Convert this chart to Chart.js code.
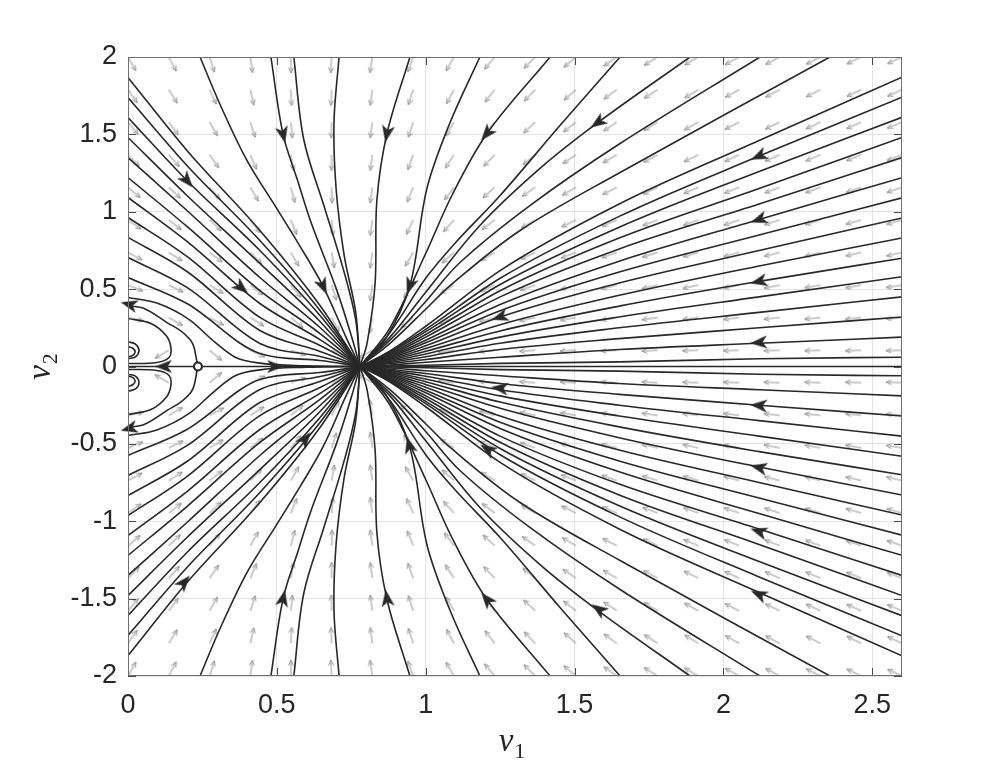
<!DOCTYPE html>
<html>
<head>
<meta charset="utf-8">
<title>Phase portrait</title>
<script src="https://cdn.jsdelivr.net/npm/chart.js@4.4.1/dist/chart.umd.min.js"></script>
<style>
  html, body { margin: 0; padding: 0; background: #fff; }
  canvas { display: block; }
</style>
</head>
<body>
<canvas id="phase" width="996" height="760"></canvas>
<script>
// Axis ticks
const xTicks = [0, 0.5, 1, 1.5, 2, 2.5];
const yTicks = [-2, -1.5, -1, -0.5, 0, 0.5, 1, 1.5, 2];

// Saddle point (open circle)
const saddleV1 = [0.235];
const saddleV2 = [0];

// Quiver grid (20 x 20) and arrow directions (screen degrees, 0 = right, 90 = up)
const quiverV1 = [0, 0.137, 0.274, 0.411, 0.547, 0.684, 0.821, 0.958, 1.095, 1.232, 1.368, 1.505, 1.642, 1.779, 1.916, 2.053, 2.189, 2.326, 2.463, 2.6];
const quiverV2 = [2, 1.789, 1.579, 1.368, 1.158, 0.947, 0.737, 0.526, 0.316, 0.105, -0.105, -0.316, -0.526, -0.737, -0.947, -1.158, -1.368, -1.579, -1.789, -2];
const quiverAngle = [
  [-60, -62, -72, -82, -89, -93, -99, -110, -120, -130, -135, -140, -145, -148, -150, -151, -152, -153, -154, -155],
  [-55, -58, -65, -77, -87, -92, -98, -108, -118, -128, -134, -139, -144, -147, -149, -151, -152, -153, -154, -155],
  [-50, -53, -60, -72, -84, -91, -98, -108, -120, -130, -137, -142, -146, -149, -151, -153, -154, -155, -156, -157],
  [-45, -48, -55, -67, -80, -90, -98, -110, -123, -134, -141, -146, -150, -152, -154, -155, -156, -157, -158, -159],
  [-40, -43, -49, -60, -75, -88, -98, -112, -127, -138, -145, -150, -153, -155, -157, -158, -159, -160, -161, -161],
  [-35, -38, -43, -53, -68, -85, -98, -115, -132, -143, -150, -154, -157, -159, -160, -161, -162, -163, -164, -164],
  [-28, -32, -37, -45, -60, -80, -98, -120, -138, -149, -155, -159, -161, -163, -164, -165, -166, -166, -167, -167],
  [-22, -26, -31, -38, -50, -72, -98, -127, -147, -156, -161, -164, -166, -167, -168, -169, -169, -170, -170, -171],
  [-12, -30, -28, -32, -40, -62, -100, -140, -158, -165, -168, -170, -171, -172, -173, -173, -174, -174, -174, -175],
  [180, -150, -40, -25, -18, -22, -150, -168, -173, -175, -176, -177, -177, -177, -178, -178, -178, -178, -178, -178],
  [180, 150, 40, 25, 18, 22, 150, 168, 173, 175, 176, 177, 177, 177, 178, 178, 178, 178, 178, 178],
  [12, 30, 28, 32, 40, 62, 100, 140, 158, 165, 168, 170, 171, 172, 173, 173, 174, 174, 174, 175],
  [22, 26, 31, 38, 50, 72, 98, 127, 147, 156, 161, 164, 166, 167, 168, 169, 169, 170, 170, 171],
  [28, 32, 37, 45, 60, 80, 98, 120, 138, 149, 155, 159, 161, 163, 164, 165, 166, 166, 167, 167],
  [35, 38, 43, 53, 68, 85, 98, 115, 132, 143, 150, 154, 157, 159, 160, 161, 162, 163, 164, 164],
  [40, 43, 49, 60, 75, 88, 98, 112, 127, 138, 145, 150, 153, 155, 157, 158, 159, 160, 161, 161],
  [45, 48, 55, 67, 80, 90, 98, 110, 123, 134, 141, 146, 150, 152, 154, 155, 156, 157, 158, 159],
  [50, 53, 60, 72, 84, 91, 98, 108, 120, 130, 137, 142, 146, 149, 151, 153, 154, 155, 156, 157],
  [55, 58, 65, 77, 87, 92, 98, 108, 118, 128, 134, 139, 144, 147, 149, 151, 152, 153, 154, 155],
  [60, 62, 72, 82, 89, 93, 99, 110, 120, 130, 135, 140, 145, 148, 150, 151, 152, 153, 154, 155]
];

// Streamlines entering from the top edge, [v1, v2] points
const topLines = [
  [[0.242, 2], [0.31, 1.69], [0.40, 1.33], [0.50, 1.02], [0.58, 0.77], [0.655, 0.52], [0.73, 0.2], [0.779, 0]],
  [[0.48, 2], [0.521, 1.5], [0.57, 1.2], [0.615, 0.93], [0.70, 0.5], [0.75, 0.2], [0.779, 0]],
  [[0.557, 2], [0.59, 1.47], [0.658, 1.04], [0.726, 0.61], [0.765, 0.3], [0.779, 0]],
  [[0.709, 2], [0.692, 1.58], [0.699, 1.15], [0.726, 0.72], [0.765, 0.35], [0.779, 0]],
  [[0.947, 2], [0.87, 1.506], [0.836, 1.073], [0.83, 0.536], [0.803, 0.15], [0.779, 0]],
  [[1.182, 2], [1.082, 1.577], [1.004, 1.15], [0.947, 0.523], [0.866, 0.181], [0.779, 0]],
  [[1.418, 2], [1.206, 1.506], [1.088, 1.105], [1.0, 0.73], [0.88, 0.25], [0.779, 0]],
  [[1.653, 2], [1.451, 1.557], [1.25, 1.105], [1.1, 0.8], [1.0, 0.57], [0.88, 0.22], [0.779, 0]],
  [[1.888, 2], [1.579, 1.577], [1.384, 1.28], [1.182, 0.911], [1.0, 0.48], [0.88, 0.19], [0.779, 0]],
  [[2.123, 2], [1.653, 1.441], [1.35, 1.04], [1.115, 0.672], [1.0, 0.42], [0.88, 0.17], [0.779, 0]],
  [[2.358, 2], [1.653, 1.254], [1.317, 0.879], [1.082, 0.523], [1.0, 0.37], [0.88, 0.15], [0.779, 0]]
];

// Streamlines entering from the bottom edge
const bottomLines = [
  [[0.242, -2], [0.31, -1.69], [0.40, -1.33], [0.50, -1.02], [0.58, -0.77], [0.655, -0.52], [0.73, -0.2], [0.779, 0]],
  [[0.48, -2], [0.521, -1.5], [0.57, -1.2], [0.615, -0.93], [0.70, -0.5], [0.75, -0.2], [0.779, 0]],
  [[0.557, -2], [0.59, -1.47], [0.658, -1.04], [0.726, -0.61], [0.765, -0.3], [0.779, 0]],
  [[0.709, -2], [0.692, -1.58], [0.699, -1.15], [0.726, -0.72], [0.765, -0.35], [0.779, 0]],
  [[0.947, -2], [0.87, -1.506], [0.836, -1.073], [0.83, -0.536], [0.803, -0.15], [0.779, 0]],
  [[1.182, -2], [1.082, -1.577], [1.004, -1.15], [0.947, -0.523], [0.866, -0.181], [0.779, 0]],
  [[1.418, -2], [1.206, -1.506], [1.088, -1.105], [1.0, -0.73], [0.88, -0.25], [0.779, 0]],
  [[1.653, -2], [1.451, -1.557], [1.25, -1.105], [1.1, -0.8], [1.0, -0.57], [0.88, -0.22], [0.779, 0]],
  [[1.888, -2], [1.579, -1.577], [1.384, -1.28], [1.182, -0.911], [1.0, -0.48], [0.88, -0.19], [0.779, 0]],
  [[2.123, -2], [1.653, -1.441], [1.35, -1.04], [1.115, -0.672], [1.0, -0.42], [0.88, -0.17], [0.779, 0]],
  [[2.358, -2], [1.653, -1.254], [1.317, -0.879], [1.082, -0.523], [1.0, -0.37], [0.88, -0.15], [0.779, 0]]
];

// Streamlines from the left edge into the node: v2 at each v1 station
const leftFanV1 = [0, 0.198, 0.443, 0.645, 0.779];
const leftFanUpper = [
  [1.868, 1.396, 0.879, 0.394, 0],
  [1.738, 1.299, 0.814, 0.362, 0],
  [1.609, 1.202, 0.750, 0.330, 0],
  [1.480, 1.105, 0.666, 0.291, 0],
  [1.350, 1.008, 0.575, 0.252, 0],
  [1.221, 0.905, 0.491, 0.213, 0],
  [1.092, 0.808, 0.407, 0.174, 0],
  [0.963, 0.711, 0.317, 0.136, 0],
  [0.834, 0.614, 0.233, 0.097, 0],
  [0.704, 0.511, 0.149, 0.065, 0],
  [0.575, 0.407, 0.084, 0.039, 0]
];
const leftFanLower = [
  [-1.868, -1.396, -0.879, -0.394, 0],
  [-1.738, -1.299, -0.814, -0.362, 0],
  [-1.609, -1.202, -0.750, -0.330, 0],
  [-1.480, -1.105, -0.666, -0.291, 0],
  [-1.350, -1.008, -0.575, -0.252, 0],
  [-1.221, -0.905, -0.491, -0.213, 0],
  [-1.092, -0.808, -0.407, -0.174, 0],
  [-0.963, -0.711, -0.317, -0.136, 0],
  [-0.834, -0.614, -0.233, -0.097, 0],
  [-0.704, -0.511, -0.149, -0.065, 0],
  [-0.575, -0.407, -0.084, -0.039, 0]
];

// Streamlines from the right edge into the node (they flatten out just before it)
const rightFanV1 = [2.6, 2.12, 1.65, 1.25, 1.0, 0.88, 0.82, 0.779];
const rightFanUpper = [
  [1.87, 1.46, 1.05, 0.62, 0.26, 0.10, 0.037, 0],
  [1.74, 1.36, 0.97, 0.57, 0.24, 0.096, 0.035, 0],
  [1.61, 1.26, 0.90, 0.53, 0.225, 0.089, 0.032, 0],
  [1.48, 1.15, 0.83, 0.49, 0.207, 0.081, 0.03, 0],
  [1.35, 1.05, 0.76, 0.45, 0.19, 0.074, 0.027, 0],
  [1.22, 0.95, 0.68, 0.40, 0.17, 0.067, 0.024, 0],
  [1.09, 0.85, 0.61, 0.36, 0.153, 0.06, 0.022, 0],
  [0.96, 0.75, 0.54, 0.32, 0.134, 0.053, 0.019, 0],
  [0.83, 0.65, 0.46, 0.27, 0.116, 0.046, 0.017, 0],
  [0.70, 0.55, 0.39, 0.23, 0.098, 0.039, 0.014, 0],
  [0.58, 0.45, 0.32, 0.19, 0.081, 0.032, 0.012, 0],
  [0.45, 0.35, 0.25, 0.15, 0.063, 0.025, 0.009, 0],
  [0.32, 0.25, 0.18, 0.11, 0.045, 0.018, 0.006, 0],
  [0.19, 0.15, 0.11, 0.06, 0.027, 0.01, 0.004, 0],
  [0.06, 0.05, 0.03, 0.02, 0.008, 0.003, 0.001, 0]
];
const rightFanLower = [
  [-1.87, -1.46, -1.05, -0.62, -0.26, -0.10, -0.037, 0],
  [-1.74, -1.36, -0.97, -0.57, -0.24, -0.096, -0.035, 0],
  [-1.61, -1.26, -0.90, -0.53, -0.225, -0.089, -0.032, 0],
  [-1.48, -1.15, -0.83, -0.49, -0.207, -0.081, -0.03, 0],
  [-1.35, -1.05, -0.76, -0.45, -0.19, -0.074, -0.027, 0],
  [-1.22, -0.95, -0.68, -0.40, -0.17, -0.067, -0.024, 0],
  [-1.09, -0.85, -0.61, -0.36, -0.153, -0.06, -0.022, 0],
  [-0.96, -0.75, -0.54, -0.32, -0.134, -0.053, -0.019, 0],
  [-0.83, -0.65, -0.46, -0.27, -0.116, -0.046, -0.017, 0],
  [-0.70, -0.55, -0.39, -0.23, -0.098, -0.039, -0.014, 0],
  [-0.58, -0.45, -0.32, -0.19, -0.081, -0.032, -0.012, 0],
  [-0.45, -0.35, -0.25, -0.15, -0.063, -0.025, -0.009, 0],
  [-0.32, -0.25, -0.18, -0.11, -0.045, -0.018, -0.006, 0],
  [-0.19, -0.15, -0.11, -0.06, -0.027, -0.01, -0.004, 0],
  [-0.06, -0.05, -0.03, -0.02, -0.008, -0.003, -0.001, 0]
];

// Lines around the saddle: over the saddle, and into the saddle (stable manifold)
const nearAxisLines = [
  [[0, 0.446], [0.097, 0.41], [0.208, 0.30], [0.29, 0.16], [0.36, 0.06], [0.45, 0.02], [0.6, 0.005], [0.779, 0]],
  [[0, -0.446], [0.097, -0.41], [0.208, -0.30], [0.29, -0.16], [0.36, -0.06], [0.45, -0.02], [0.6, -0.005], [0.779, 0]],
  [[0, 0.394], [0.054, 0.375], [0.131, 0.284], [0.195, 0.2], [0.222, 0.123], [0.232, 0.026], [0.235, 0]],
  [[0, -0.394], [0.054, -0.375], [0.131, -0.284], [0.195, -0.2], [0.222, -0.123], [0.232, -0.026], [0.235, 0]]
];

// U-turns and small loops at the left edge
const loopLines = [
  [[0, 0.31], [0.077, 0.278], [0.128, 0.2], [0.144, 0.123], [0.138, 0.058], [0.097, 0.026], [0, 0.019]],
  [[0, -0.31], [0.077, -0.278], [0.128, -0.2], [0.144, -0.123], [0.138, -0.058], [0.097, -0.026], [0, -0.019]],
  [[0, 0.16], [0.025, 0.145], [0.037, 0.105], [0.025, 0.062], [0, 0.05]],
  [[0, 0.13], [0.016, 0.118], [0.024, 0.095], [0.016, 0.072], [0, 0.062]],
  [[0, -0.16], [0.025, -0.145], [0.037, -0.105], [0.025, -0.062], [0, -0.05]],
  [[0, -0.13], [0.016, -0.118], [0.024, -0.095], [0.016, -0.072], [0, -0.062]]
];

// Horizontal axis trajectories
const axisLines = [
  [[0, 0], [0.235, 0]],
  [[0.235, 0], [0.779, 0]],
  [[0.779, 0], [2.6, 0]]
];

// Black arrowheads on the streamlines (screen degrees)
const arrowV1 = [0.198, 0.521, 0.870, 1.206, 1.579, 2.12, 2.12, 2.12, 2.12, 0.38, 0.655, 0.947, 1.25, 0.494, 0.121, 0.005,
                 0.005, 0.188, 0.595, 0.521, 0.87, 0.945, 1.209, 1.206, 1.582, 1.25, 2.12, 2.12, 2.12, 2.12];
const arrowV2 = [1.202, 1.5, 1.506, 1.506, 1.577, 1.36, 0.95, 0.55, 0.155, 0.51, 0.52, 0.523, 0.32, 0, 0, 0.40,
                 -0.40, -1.396, -0.47, -1.5, -1.5, -0.51, -0.536, -1.506, -1.57, -0.14, -0.252, -0.653, -1.066, -1.473];
const arrowAngle = [-50, -77, -101, -130, -145, -156, -161, -167, -176, -40, -66, -110, -162, 0, 180, 165,
                    195, 50, 52, 78, 98, 105, 148, 130, 145, 173, 176, 167, 162, 156];

const ink = '#282828';

// Small gray quiver arrow, tail at the image centre, pointing right
function makeQuiverArrow() {
    const len = 16, size = 2 * len + 6, m = size / 2;
    const c = document.createElement('canvas');
    c.width = size; c.height = size;
    const g = c.getContext('2d');
    g.strokeStyle = '#989898';
    g.lineWidth = 1;
    g.beginPath();
    g.moveTo(m, m); g.lineTo(m + len, m);
    g.moveTo(m + len - 5.5, m - 2.4); g.lineTo(m + len, m); g.lineTo(m + len - 5.5, m + 2.4);
    g.stroke();
    return c;
}

// Filled arrowhead, pointing right
function makeHead() {
    const c = document.createElement('canvas');
    c.width = 26; c.height = 26;
    const g = c.getContext('2d');
    g.fillStyle = ink;
    g.beginPath();
    g.moveTo(22, 13); g.lineTo(5, 6.5); g.lineTo(9.5, 13); g.lineTo(5, 19.5);
    g.closePath();
    g.fill();
    return c;
}

function streamline(points, mode) {
    const ds = {
        data: points.map(p => ({ x: p[0], y: p[1] })),
        showLine: true,
        pointRadius: 0,
        borderColor: ink,
        borderWidth: 1.6,
        order: 2
    };
    if (mode === 'monotone') ds.cubicInterpolationMode = 'monotone';
    else ds.tension = 0.35;
    return ds;
}

const datasets = [];

// Quiver field
const quiverData = [];
quiverV2.forEach((v2, r) => {
    quiverV1.forEach((v1, c) => quiverData.push({ x: v1, y: v2, a: quiverAngle[r][c] }));
});
datasets.push({
    data: quiverData,
    pointStyle: makeQuiverArrow(),
    pointRadius: 3,
    pointRotation: ctx => -ctx.raw.a,
    order: 3
});

topLines.concat(bottomLines).forEach(l => datasets.push(streamline(l)));
leftFanUpper.concat(leftFanLower).forEach(row => {
    datasets.push(streamline(row.map((v, i) => [leftFanV1[i], v]), 'monotone'));
});
rightFanUpper.concat(rightFanLower).forEach(row => {
    datasets.push(streamline(row.map((v, i) => [rightFanV1[i], v]), 'monotone'));
});
nearAxisLines.forEach(l => datasets.push(streamline(l, 'monotone')));
loopLines.forEach(l => datasets.push(streamline(l)));
axisLines.forEach(l => datasets.push(streamline(l, 'monotone')));

// Arrowheads
datasets.push({
    data: arrowV1.map((v, i) => ({ x: v, y: arrowV2[i], a: arrowAngle[i] })),
    pointStyle: makeHead(),
    pointRadius: 3,
    pointRotation: ctx => -ctx.raw.a,
    clip: false,
    order: 1
});

// Saddle marker
datasets.push({
    data: saddleV1.map((v, i) => ({ x: v, y: saddleV2[i] })),
    pointStyle: 'circle',
    pointRadius: 4,
    pointBorderWidth: 2.2,
    pointBorderColor: ink,
    pointBackgroundColor: '#ffffff',
    order: 0
});

// Axis titles with subscripts
function axisTitle(ctx, sub, cx, base) {
    const main = 'italic 33px "Liberation Serif", "DejaVu Serif", serif';
    const small = '22px "Liberation Serif", "DejaVu Serif", serif';
    ctx.font = main;
    const wv = ctx.measureText('v').width;
    ctx.font = small;
    const ws = ctx.measureText(sub).width;
    const x0 = cx - (wv + ws + 1) / 2;
    ctx.textAlign = 'left';
    ctx.textBaseline = 'alphabetic';
    ctx.font = main;
    ctx.fillText('v', x0, base);
    ctx.font = small;
    ctx.fillText(sub, x0 + wv + 1, base + 7);
}

// Box, inward ticks and titles
const framePlugin = {
    id: 'frame',
    afterDraw(chart) {
        const { ctx, chartArea: a } = chart;
        const sx = chart.scales.x, sy = chart.scales.y;
        ctx.save();
        ctx.strokeStyle = '#4a4a4a';
        ctx.lineWidth = 1;
        ctx.beginPath();
        xTicks.forEach(v => {
            const p = Math.round(sx.getPixelForValue(v)) + 0.5;
            ctx.moveTo(p, a.bottom); ctx.lineTo(p, a.bottom - 8);
            ctx.moveTo(p, a.top); ctx.lineTo(p, a.top + 8);
        });
        yTicks.forEach(v => {
            const p = Math.round(sy.getPixelForValue(v)) + 0.5;
            ctx.moveTo(a.left, p); ctx.lineTo(a.left + 8, p);
            ctx.moveTo(a.right, p); ctx.lineTo(a.right - 8, p);
        });
        ctx.stroke();
        ctx.strokeStyle = '#6f6f6f';
        ctx.strokeRect(a.left + 0.5, a.top + 0.5, a.right - a.left - 1, a.bottom - a.top - 1);

        ctx.fillStyle = '#262626';
        axisTitle(ctx, '1', 512, 751);
        ctx.translate(50, (a.top + a.bottom) / 2);
        ctx.rotate(-Math.PI / 2);
        axisTitle(ctx, '2', 0, 0);
        ctx.restore();
    }
};

const tickFont = { family: '"Liberation Sans", Arial, Helvetica, sans-serif', size: 27 };

new Chart(document.getElementById('phase'), {
    type: 'scatter',
    data: { datasets },
    options: {
        responsive: false,
        animation: false,
        devicePixelRatio: 1,
        events: [],
        layout: { padding: { top: 57, right: 94, left: 0, bottom: 0 } },
        plugins: { legend: { display: false }, tooltip: { enabled: false } },
        scales: {
            x: {
                type: 'linear',
                min: 0,
                max: 2.6,
                afterFit: s => { s.height = 84; },
                afterBuildTicks: s => { s.ticks = xTicks.map(v => ({ value: v })); },
                grid: { color: '#e3e3e3', drawTicks: false },
                border: { display: false },
                ticks: { padding: 13, color: '#262626', font: tickFont, maxRotation: 0, autoSkip: false, callback: v => String(v) }
            },
            y: {
                type: 'linear',
                min: -2,
                max: 2,
                afterFit: s => { s.width = 128; },
                afterBuildTicks: s => { s.ticks = yTicks.map(v => ({ value: v })); },
                grid: { color: '#e3e3e3', drawTicks: false },
                border: { display: false },
                ticks: { padding: 11, color: '#262626', font: tickFont, autoSkip: false, callback: v => String(v) }
            }
        }
    },
    plugins: [framePlugin]
});
</script>
</body>
</html>
